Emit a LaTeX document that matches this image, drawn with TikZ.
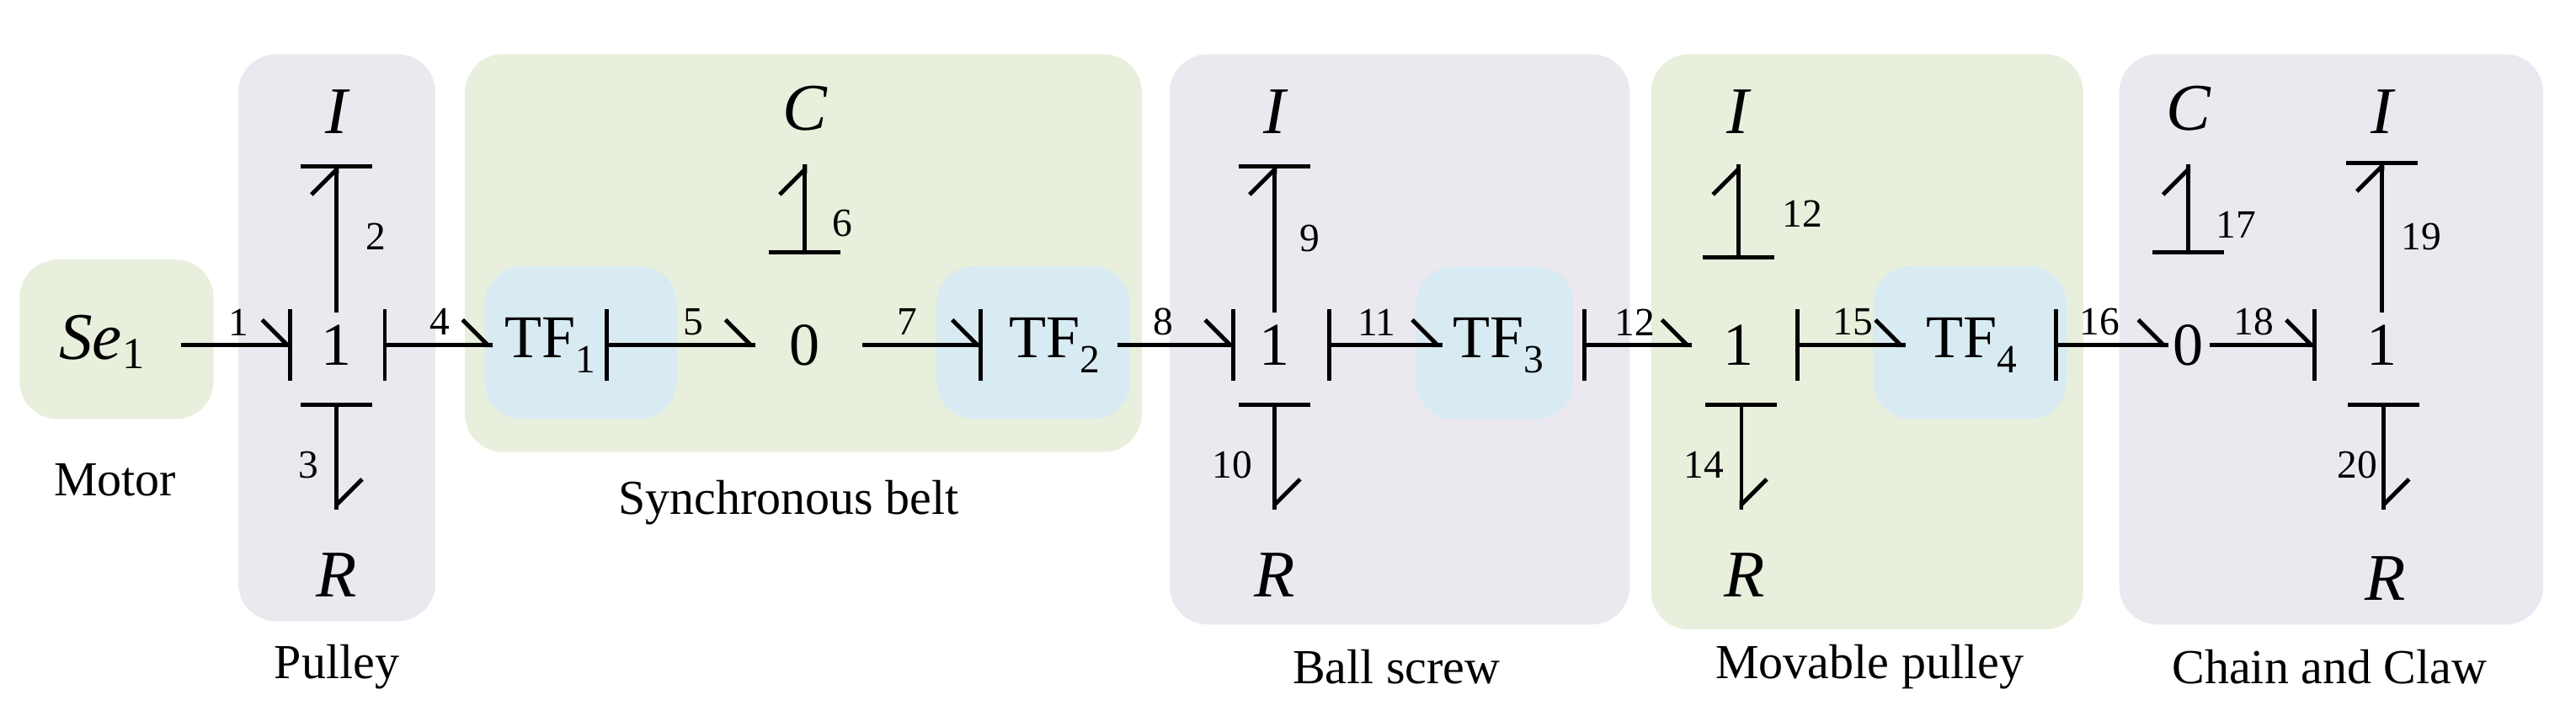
\documentclass[tikz,border=0pt]{standalone}
\usepackage{fontspec}
\setmainfont{Liberation Serif}
\usetikzlibrary{arrows.meta,calc}
\definecolor{lav}{HTML}{EBE8F0}
\definecolor{grn}{HTML}{E8EFDC}
\definecolor{blu}{HTML}{D9EBF2}
\tikzset{
  grp/.style={rounded corners=0.9cm},
  bond/.style={line width=2.8pt,-{Straight Barb[left,length=0.6cm,width=1.2cm,line width=2.8pt]}},
  se/.style={postaction={draw,line width=2.8pt,arrows={-Bar[width=1.7cm,line width=2.8pt]}}},
  ss/.style={postaction={draw,line width=2.8pt,arrows={Bar[width=1.7cm,line width=2.8pt]-}}},
  el/.style={font=\fontsize{41}{44}\selectfont},
  lt/.style={font=\fontsize{45}{48}\selectfont\itshape},
  num/.style={font=\fontsize{27}{30}\selectfont},
  captxt/.style={font=\fontsize{33}{36}\selectfont}
}
\begin{document}
\begin{tikzpicture}[x=0.039cm,y=-0.039cm]
\useasboundingbox (0,0) rectangle (1568,442);
% groups
\fill[grn,grp] (12,158) rectangle (130,255);
\fill[lav,grp] (145,33) rectangle (265,378);
\fill[grn,grp] (283,33) rectangle (695,275);
\fill[lav,grp] (712,33) rectangle (992,380);
\fill[grn,grp] (1005,33) rectangle (1268,383);
\fill[lav,grp] (1290,33) rectangle (1548,380);
\fill[blu,grp] (295,162) rectangle (412,255);
\fill[blu,grp] (570,162) rectangle (688,255);
\fill[blu,grp] (862,162) rectangle (958,255);
\fill[blu,grp] (1140,162) rectangle (1258,255);
% elements
\node[lt] (se) at (62,208) {Se\textup{\fontsize{30}{32}\selectfont\raisebox{-0.2em}{1}}};
\node[el] (j1) at (205,210) {1};
\node[lt] (i1) at (205,68) {I};
\node[lt] (r1) at (205,350) {R};
\node[el] (tf1) at (335,210) {TF\raisebox{-0.25em}{\fontsize{27}{29}\selectfont 1}};
\node[el] (z1) at (490,210) {0};
\node[lt] (c1) at (490,66) {C};
\node[el] (tf2) at (642,210) {TF\raisebox{-0.25em}{\fontsize{27}{29}\selectfont 2}};
\node[el] (j2) at (776,210) {1};
\node[lt] (i2) at (776,68) {I};
\node[lt] (r2) at (776,350) {R};
\node[el] (tf3) at (912,210) {TF\raisebox{-0.25em}{\fontsize{27}{29}\selectfont 3}};
\node[el] (j3) at (1058,210) {1};
\node[lt] (i3) at (1058,68) {I};
\node[lt] (r3) at (1062,350) {R};
\node[el] (tf4) at (1200,210) {TF\raisebox{-0.25em}{\fontsize{27}{29}\selectfont 4}};
\node[el] (z2) at (1332,210) {0};
\node[lt] (c2) at (1332,66) {C};
\node[el] (j4) at (1450,210) {1};
\node[lt] (i4) at (1450,68) {I};
\node[lt] (r4) at (1452,352) {R};
% captions
\node[captxt] (m) at (70,292) {Motor};
\node[captxt] (p) at (205,406) {Pulley};
\node[captxt] (sb) at (480,306) {Synchronous belt};
\node[captxt] (bs) at (850,406) {Ball screw};
\node[captxt] (mp) at (1138,406) {Movable pulley};
\node[captxt] (cc) at (1418,406) {Chain and Claw};
% bonds
\draw[bond,se] ($(se)+(48,2)$) -- ($(j1)+(-27,0)$);
\node[num] (n1) at (145,196) {1};
\draw[bond,se] ($(j1)+(0,-20)$) -- ($(j1)+(0,-110)$);
\node[num] (n2) at (229,144) {2};
\draw[bond,ss] ($(j1)+(0,35)$) -- ($(j1)+(0,100)$);
\node[num] (n3) at (188,283) {3};
\draw[bond,ss] ($(j1)+(28,0)$) -- ($(tf1)+(-35,0)$);
\node[num] (n4) at (268,196) {4};
\draw[bond,ss] ($(tf1)+(33,0)$) -- ($(z1)+(-30,0)$);
\node[num] (n5) at (422,196) {5};
\draw[bond,ss] ($(c1)+(0,89)$) -- ($(c1)+(0,34)$);
\node[num] (n6) at (513,136) {6};
\draw[bond,se] ($(z1)+(35,0)$) -- ($(tf2)+(-44,0)$);
\node[num] (n7) at (552,196) {7};
\draw[bond,se] ($(tf2)+(38,0)$) -- ($(j2)+(-24,0)$);
\node[num] (n8) at (708,196) {8};
\draw[bond,se] ($(j2)+(0,-20)$) -- ($(j2)+(0,-110)$);
\node[num] (n9) at (797,145) {9};
\draw[bond,ss] ($(j2)+(0,35)$) -- ($(j2)+(0,100)$);
\node[num] (n10) at (750,283) {10};
\draw[bond,ss] ($(j2)+(32,0)$) -- ($(tf3)+(-34,0)$);
\node[num] (n11) at (838,196) {11};
\draw[bond,ss] ($(tf3)+(51,0)$) -- ($(j3)+(-28,0)$);
\node[num] (n12) at (995,196) {12};
\draw[bond,ss] ($(j3)+(0,-52)$) -- ($(j3)+(0,-110)$);
\node[num] (n13) at (1097,130) {12};
\draw[bond,ss] ($(j3)+(2,35)$) -- ($(j3)+(2,100)$);
\node[num] (n14) at (1037,283) {14};
\draw[bond,ss] ($(j3)+(35,0)$) -- ($(tf4)+(-40,0)$);
\node[num] (n15) at (1128,196) {15};
\draw[bond,ss] ($(tf4)+(50,0)$) -- ($(z2)+(-12,0)$);
\node[num] (n16) at (1278,196) {16};
\draw[bond,ss] ($(c2)+(0,89)$) -- ($(c2)+(0,34)$);
\node[num] (n17) at (1361,137) {17};
\draw[bond,se] ($(z2)+(13,0)$) -- ($(j4)+(-40,0)$);
\node[num] (n18) at (1372,196) {18};
\draw[bond,se] ($(j4)+(0,-20)$) -- ($(j4)+(0,-112)$);
\node[num] (n19) at (1474,144) {19};
\draw[bond,ss] ($(j4)+(1,35)$) -- ($(j4)+(1,100)$);
\node[num] (n20) at (1435,283) {20};
\end{tikzpicture}
\end{document}
